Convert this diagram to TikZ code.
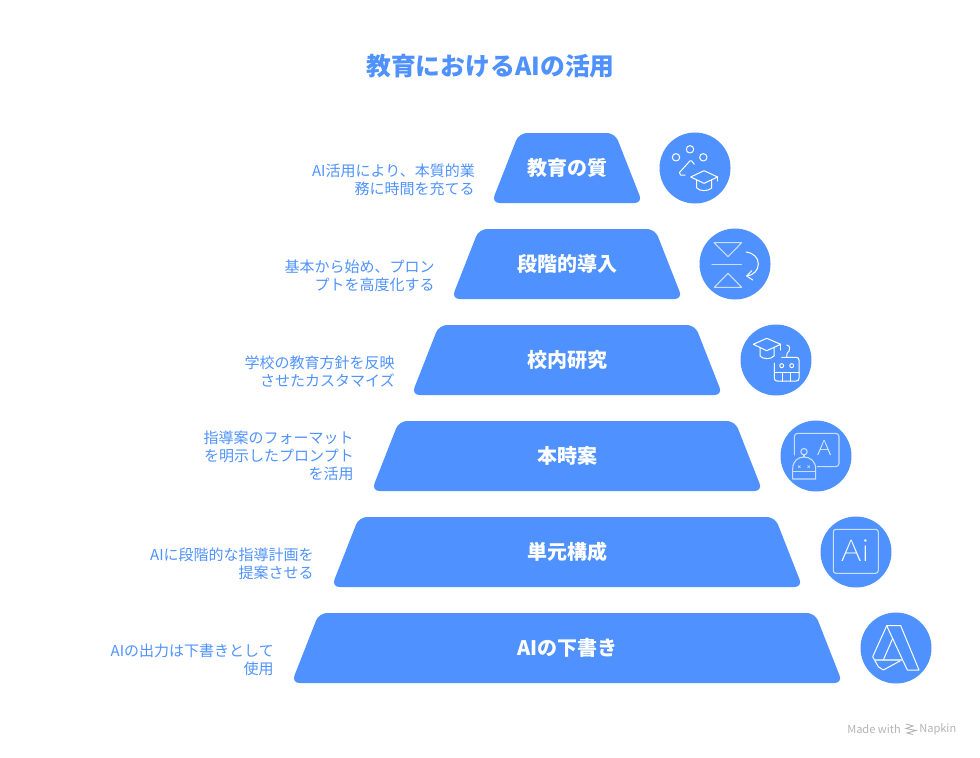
\documentclass[tikz,border=0pt]{standalone}
\usepackage{fontspec}
\setmainfont{Noto Sans CJK JP}
\newfontfamily\thinfont[FakeStretch=1.2]{Noto Sans CJK JP Thin}
\definecolor{napblue}{HTML}{4F92FF}
\definecolor{napgray}{HTML}{B4B4B4}
\tikzset{
  tier/.style={fill=napblue, rounded corners=6pt},
  disc/.style={fill=napblue},
  tiertext/.style={text=white, font=\fontsize{15}{18}\selectfont\bfseries},
  note/.style={text=napblue, font=\fontsize{11.25}{13.7}\selectfont, align=right, anchor=east, inner sep=0pt},
  glyph/.style={draw=white, line width=0.75pt, line cap=round, line join=round},
  softglyph/.style={draw=white!70!napblue, line width=0.8pt, line cap=round, line join=round},
}

\begin{document}
\begin{tikzpicture}[x=0.75pt, y=-0.75pt]
    \useasboundingbox(0,0)rectangle(980,757);
    \node[text=napblue, font=\fontsize{18.6}{22}\selectfont\bfseries](title)at(490.5,66){教育におけるAIの活用};

    % tiers
    \fill[tier](519,133)--(615,133)--(642.5,203)--(491.5,203)--cycle;
    \fill[tier](479,229)--(655,229)--(682.5,299)--(451.5,299)--cycle;
    \fill[tier](439,325)--(695,325)--(722.5,395)--(411.5,395)--cycle;
    \fill[tier](399,421)--(735,421)--(762.5,491)--(371.5,491)--cycle;
    \fill[tier](359,517)--(775,517)--(802.5,587)--(331.5,587)--cycle;
    \fill[tier](319,613)--(815,613)--(842.5,683)--(291.5,683)--cycle;

    \node[tiertext](quality)at(567,168){教育の質};
    \node[tiertext](phased)at(567,264){段階的導入};
    \node[tiertext](research)at(567,360){校内研究};
    \node[tiertext](lesson)at(567,456){本時案};
    \node[tiertext](unit)at(567,552){単元構成};
    \node[tiertext](draft)at(567.5,648){AIの下書き};

    \node[note](qualitynote)at(475,179.7){AI活用により、本質的業\\務に時間を充てる};
    \node[note](phasednote)at(435,275.7){基本から始め、プロン\\プトを高度化する};
    \node[note](researchnote)at(395,371.7){学校の教育方針を反映\\させたカスタマイズ};
    \node[note](lessonnote)at(354,456){指導案のフォーマット\\を明示したプロンプト\\を活用};
    \node[note](unitnote)at(314,563.7){AIに段階的な指導計画を\\提案させる};
    \node[note](draftnote)at(274,659.7){AIの出力は下書きとして\\使用};

    % discs
    \fill[disc](695,168)circle(35.5);
    \fill[disc](735,264)circle(35.5);
    \fill[disc](776,360)circle(35.5);
    \fill[disc](816,456)circle(35.5);
    \fill[disc](856,552)circle(35.5);
    \fill[disc](896,648)circle(35.5);

    % people and cap
    \draw[glyph](676,157.3)circle(3.7);
    \draw[glyph](690,149.3)circle(3.7);
    \draw[glyph](703.3,157.3)circle(3.7);
    \draw[glyph](694.3,164.3)--(691.5,160.8)--(690,160.8)--(679.5,172.5)--(680.5,175)--(685,175);
    \draw[glyph](690.7,177)--(704,170.7)--(717.7,177)--(704,183.3)--cycle;
    \draw[glyph](696.7,180)--(696.7,188)..controls(700,191.5)and(708,191.5)..(711.7,188)--(711.7,180);
    \draw[glyph](717.7,177)--(717.7,181);

    % hourglass and turn
    \draw[softglyph](714,242.7)--(741.7,242.7)--(728,256.7)--cycle;
    \draw[softglyph](712,264.7)--(741.7,264.7);
    \draw[softglyph](728,273.3)--(741.7,287.3)--(714.3,287.3)--cycle;
    \draw[glyph](746,252)..controls(754,253)and(758.3,258)..(758.3,264)..controls(758.3,270)and(754,275)..(746.7,276);
    \draw[glyph](751.7,270.7)--(746.7,276)--(752.7,280);

    % cap and robot
    \draw[glyph](753.3,344.3)--(766.7,338.3)--(780.7,344.3)--(766.7,350.7)--cycle;
    \draw[glyph](760,347.7)--(760,356)..controls(763,359.5)and(771,359.5)..(774,356)--(774,347.7);
    \draw[glyph](780.7,344.3)--(780.7,350);
    \draw[glyph](786.7,345)..controls(790,345.5)and(790.5,349)..(789,351)..controls(787.5,352.5)and(786.7,353)..(786.7,357.3);
    \draw[glyph,rounded corners=2pt](781.7,357.3)--(799,357.3)--(799,381)--(774.3,381)--(774.3,363.3);
    \draw[glyph](774.3,372.3)--(799,372.3);
    \draw[glyph](782.3,372.3)--(782.3,381);
    \draw[glyph](790.7,372.3)--(790.7,381);
    \draw[glyph](781.7,365.7)circle(2);
    \draw[glyph](791.7,365.7)circle(2);

    % board and robot
    \draw[softglyph,rounded corners=2.5pt](794.3,455)--(794.3,433.3)--(839,433.3)--(839,466.7)--(817.3,466.7);
    \node[text=white, inner sep=0pt, font=\thinfont\fontsize{15.5}{15.5}\selectfont](boardletter)at(824.3,448){A};
    \draw[softglyph](804,451.7)circle(3.2);
    \draw[softglyph](804,454.9)--(804,457);
    \draw[softglyph](792.7,479)--(792.7,469)..controls(792.7,461)and(798,457)..(804,457)..controls(810,457)and(815.7,461)..(815.7,469)--(815.7,479)--cycle;
    \draw[softglyph](792.7,471.7)--(815.7,471.7);
    \draw[softglyph,line width=0.5pt](798.3,465.7)--(800.3,467.7)(800.3,465.7)--(798.3,467.7);
    \draw[softglyph,line width=0.5pt](807.7,465.7)--(809.7,467.7)(809.7,465.7)--(807.7,467.7);

    % framed letters
    \draw[softglyph,rounded corners=2pt](833.3,529.3)rectangle(878.3,573.3);
    \node[text=white, inner sep=0pt, font=\thinfont\fontsize{22}{22}\selectfont](frameletters)at(855.5,551){Ai};

    % folded letter
    \draw[glyph](886.7,625.7)--(900.7,625.7)--(919,670)--(907.3,670)--cycle;
    \draw[glyph](886.7,625.7)--(872.7,656.7)--(878.3,666.7)--(883.3,670)--(901.7,660);
    \draw[softglyph](875,660)--(901.7,660);
    \draw[glyph](883.3,660)--(892.7,638.3);

    % footer
    \node[text=napgray, inner sep=0pt, font=\fontsize{8.3}{10}\selectfont, anchor=west](madewith)at(847,729){Made with};
    \node[text=napgray, inner sep=0pt, font=\fontsize{8.3}{10}\selectfont, anchor=west](napkin)at(919,729){Napkin};
    \draw[napgray, line width=0.7pt](906,724)--(913,726)--(906,728.5)--(916,730.5)--(907,733)--(913,734.5);
\end{tikzpicture}
\end{document}
